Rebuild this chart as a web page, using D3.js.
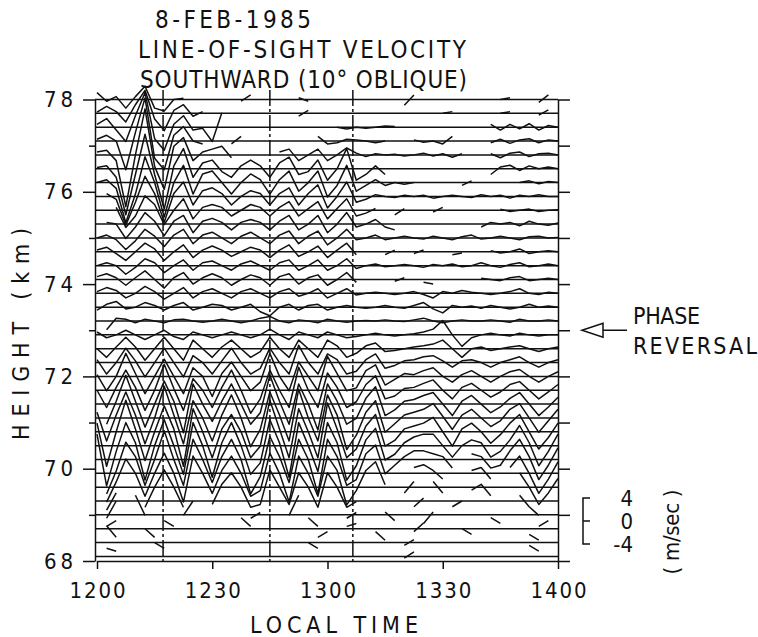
<!DOCTYPE html>
<html>
<head>
<meta charset="utf-8">
<script src="https://cdn.jsdelivr.net/npm/d3@7"></script>
<style>
  html, body { margin: 0; padding: 0; background: #fff; }
  svg text { font-family: "Liberation Sans Narrow", "DejaVu Sans Condensed", "Liberation Sans", sans-serif; fill: #111; }
</style>
</head>
<body>
<div id="chart"></div>
<script>
// ---- data -------------------------------------------------------------
var N = null;

// sample times, minutes after 1200 LT
var minutes = [0,2.5,5,7.5,10,12.5,15,17.5,20,22.5,25,27.5,30,32.5,35,37.5,40,42.5,45,47.5,50,52.5,55,57.5,60,62.5,65,67.5,70,72.5,75,77.5,80,82.5,85,87.5,90,92.5,95,97.5,100,102.5,105,107.5,110,112.5,115,117.5,120];

// range gates (km)
var heights = [78.0,77.7,77.4,77.1,76.8,76.5,76.2,75.9,75.6,75.3,75.0,74.7,74.4,74.1,73.8,73.5,73.2,72.9,72.6,72.3,72.0,71.7,71.4,71.1,70.8,70.5,70.2,69.9,69.6,69.3,69.0,68.7,68.4,68.1];

// line-of-sight velocity (m/s) per gate, null = no data
var h780 = [1.2,-0.3,0.5,-1.5,0.5,2.3,-1.5,-2,0,0.2,N,N,N,N,N,-0.3,0.8,N,N,N,N,0.3,-0.3,N,N,N,N,N,N,N,N,N,-1,0.8,N,N,N,N,N,N,N,N,0,0.3,N,N,-0.5,0.8,N];
var h777 = [0.2,1.2,0.3,-1.5,1.5,4,-1,-3,0.5,1.5,-0.5,0.3,N,N,N,N,N,N,N,N,N,-0.5,0.5,N,N,N,N,N,N,N,N,N,N,N,N,N,0,0.3,N,N,N,N,0,0.3,N,N,-0.3,0.6,N];
var h774 = [0.5,1.5,-0.5,-2.5,2,6,-2,-4,0.5,2,-0.5,-0.2,-2.5,2.5,N,N,N,N,N,N,N,N,N,N,N,0,-0.3,0,-0.2,0,0.2,0.1,N,N,N,N,N,N,N,N,N,0.5,-0.5,0.5,-0.3,0.6,-0.5,0.3,0];
var h771 = [0.3,1,0,-5,1.5,7.5,-3,-5,1,2.5,0,-0.5,N,N,-0.5,0.8,N,N,N,N,N,N,N,0.8,-0.5,-0.3,0.3,0.2,0,-0.3,0,N,N,0.2,-0.2,0,-0.5,0.8,N,N,N,-0.3,0.3,-0.4,0.2,0.4,-0.3,0.2,0];
var h768 = [0.5,0.8,-1,-9,0,8,-2,-6,1.5,3,-1,0.5,1,1.5,-0.5,N,N,N,N,0.5,1,-1,0,1,-1,0,1.2,0.3,-0.3,0.2,0,0.1,-0.2,0,0.3,-0.2,0.2,-0.4,0.2,N,N,0.2,-0.5,0.3,0.5,-0.3,0.2,0.3,0];
var h765 = [0.2,0.5,-1.5,-8,-1,6,-1,-7,0.5,3.5,-1.5,1,1.5,-0.5,-1.5,0.5,1.5,0.5,-1.5,1,2,-1,-0.5,1.5,-2,0,3.5,-2,-1,0.5,-1,N,N,N,N,N,N,N,N,N,N,-1,0.3,0.6,-0.3,0.5,0,0.3,0];
var h762 = [0,0.5,-1,-7,-2,4.5,0,-6,0,3,-2,1.5,2,0,-2,0,1.5,0.5,-2,0.5,2,-1.5,0,2,-2.5,-0.5,3,-1.5,-0.5,0.5,-0.5,0,-0.3,0,N,N,N,N,-0.5,0.3,N,N,N,N,0,0.3,-0.2,0.2,0];
var h759 = [N,0.5,-0.5,-5,-1,3.5,0.5,-4.5,0.5,2.5,-1.5,1,1.5,0.5,-1.5,0,1,0.5,-1.5,0.5,1.5,-1.5,0.5,2,-2,0,2.5,-1,-0.5,0.3,0,-0.2,0.2,0,0.2,-0.3,0,0.2,0,-0.2,0.3,0,0.2,-0.3,0.2,0,0.3,0,0];
var h756 = [N,N,0.5,-3,-1,2.5,1,-2.5,0,2,-1.5,0.5,1,0.5,-1,0,1,0.5,-1,0.5,1.5,-1,0.3,1.5,-1.5,0.3,2,-1,-0.5,0.3,N,-0.8,0.3,N,N,-0.3,0.5,N,N,N,N,N,0.2,-0.2,0,0.2,-0.2,0,0.1];
var h753 = [N,0.3,0,-2.5,-0.5,2,0.5,-2,0.5,1.5,-1.5,0.5,1,0.3,-1,0.3,0.8,0.3,-1,0.5,1.5,-1,0,1.5,-1.5,0,2,-0.5,0,0.8,-0.5,-1,N,N,N,N,N,N,N,N,-0.5,0.3,0,0.3,-0.3,0.5,0,-0.2,0.2];
var h750 = [0,0.5,-0.3,-2,-0.5,1.5,0.3,-1.5,0.5,1.5,-1,0.5,1,0,-1,0.3,1,0,-1,0.5,1.2,-1,0.3,1.2,-1.2,0,1.5,-0.3,0,0.5,-0.3,0,0.3,0,-0.2,0.3,0,-0.3,0.2,0.5,-0.2,0,0.3,0,-0.3,0.2,0.3,0,0.1];
var h747 = [0.3,0.8,-0.3,-1.5,0,1.5,0.5,-1.5,0,1.2,-1,0.3,1,0.3,-0.8,0,0.8,0.3,-1,0.3,1.2,-0.8,0,1,-1,0.3,1.5,-0.5,N,N,-0.5,0.3,N,-0.3,0.3,N,N,-0.5,-0.2,N,N,0.2,-0.2,0,0.5,-0.3,0,0.2,0];
var h744 = [0,0.5,0,-1.5,-0.3,1.2,0.5,-1.2,0,1,-0.8,0.5,0.8,0,-0.8,0.3,0.8,0,-0.8,0.5,1,-0.8,0,1,-0.8,0,1.2,-0.5,0,0.3,-0.2,0,0.2,0,-0.3,0.2,0,0.3,-0.2,0,0.5,0,-0.3,0.2,0.5,-0.2,0,0.3,0];
var h741 = [0.5,1,0.3,-1,0.3,1.5,0,-1.5,0.3,1.2,-0.8,0.3,1,0.3,-1,0,0.8,0.3,-1,0.5,1,-0.8,0.3,0.8,-1,0,1.2,-0.5,N,N,N,-0.3,0.3,N,-0.5,-0.8,N,N,N,N,0.2,0,-0.2,0.3,0.5,-0.2,0,0.2,0];
var h738 = [0.3,1,0.5,-0.8,0,1.2,0.3,-1,0,1,-0.8,0.3,0.8,0,-0.8,0.3,0.8,0,-0.8,0.3,0.8,-0.5,0,0.8,-0.8,0,0.8,-0.3,0,0.2,0,-0.2,0,0.3,-0.2,-0.8,0.3,0,0.5,0.2,0,-0.2,0,0.3,0.8,0,-0.2,0.2,0];
var h735 = [-0.5,0.5,1,-0.3,0,0.8,0.3,-0.5,0.3,0.8,-0.5,0,0.5,0.3,-0.5,0,0.5,-0.8,-1.5,0,0.5,-0.5,0.3,0.5,-0.5,0,0.3,0,-0.2,0,0.3,0,-0.2,0.3,0.8,-0.3,-1,0.3,0,0.2,-0.2,0.3,0,-0.3,0,0.5,0,0.2,0];
var h732 = [N,-1.5,0.5,0.3,-0.3,0.3,0,-0.3,0.2,0.3,0,-0.2,0,0.3,0,-0.3,0,0.5,0.8,0,-0.3,0.2,0,-0.3,0.3,0,-0.2,0,0.1,0,0.2,0,-0.1,0.2,0.5,0,-0.3,0,0.2,0,0,0.2,0,-0.2,0.3,0,0,0.2,0];
var h729 = [0.5,-0.5,0,0.8,0,-0.8,0,0.8,-0.3,-0.8,0.5,0,-0.5,0,0.5,0,-0.5,0,1,0,-0.8,0.5,0,-0.5,0.5,0,-0.5,-0.3,0,0.3,0,-0.2,0,0.2,0.5,1,2.5,0,-2,-0.5,0,0.3,0,-0.2,0.3,0,-0.2,0,0];
var h726 = [0,-1.5,0.3,2,0.3,-2,0,2,0,-2,1.5,0,-1.5,0.3,1.5,0,-1.5,-0.5,2,0,-1.5,1.5,0,-1.5,1.5,0.5,-1.5,-0.8,0.5,1,-0.5,-0.3,0,0.3,0.5,0.8,1.5,0,-1.5,0,0.3,-0.3,0,0.3,0.5,0,-0.5,0,0.3];
var h723 = [0.5,-2,0,2.5,0.3,-2.5,0,2.5,0,-2.5,1.2,0,-2,0.3,2.5,0,-2,-1,2.5,0,-2,3,0,-2,1.5,0.5,-2,-1.5,0.5,1.5,-1,-0.5,0.3,0.5,1,1.2,0.3,-0.8,0.3,0.5,0,-0.8,0,0.5,1,0,-0.8,0,0.5];
var h720 = [0.3,-2.5,0,4,0.5,-3,0,3,0,-3,1.5,0,-3.5,0.5,2.5,0,-2.5,-1,4,0,-2.5,2.5,0,-2.5,3.5,0.5,-2.5,-2,1,2,-1.5,-0.5,0.5,0.3,1,1.5,0,-1,0.3,1,0,-1,0,0.8,1.2,0,-1,0,0.8];
var h717 = [0,-3,0.5,3.5,0.5,-3.5,0,4.5,0.3,-3.5,2,0,-3,0.5,3.5,0,-4,-1.5,3.5,0,-3,4,0,-3,3,0.5,-3,-2,1,2.5,-1.5,-1,0.3,0.5,1.2,1.8,0,-1.5,0.5,1.2,0,-1.2,-0.3,1,1.5,0,-1.5,-0.3,1];
var h714 = [N,-3.5,0.5,5,0.5,-4,0,4,0.5,-5,3.5,0,-3,0.5,3.5,0,-3.5,-1.5,5,0.5,-3.5,3.5,0,-4.5,3.5,0.5,-3.5,-2.5,1,3,-2,-1,0.5,0.8,1.5,2,0,-2,0.5,1.5,0,-1.5,-0.5,1,2,0,-2,-0.5,1.2];
var h711 = [1,-4,0.5,4.5,0.5,-4.5,0,5.5,0.5,-4.5,3,0,-4,0.5,4,0,-5,-2,4.5,0.5,-4,5,0,-4,4,0.5,-5.5,-3,1,3,-2.5,-1,0.5,1,1.5,2.5,0.3,-2,0.5,1.5,0,-1.5,-0.5,1.5,2.5,0,-2.5,-0.5,1.5];
var h708 = [1.5,-6,0,5.5,0.5,-5,0,4.5,0.5,-6,4,0,-4.5,0.5,3,0,-4.5,-2.5,5.5,0.5,-4.5,4,0,-4.5,5,0.5,-4.5,-3,1,3,-2.5,-1.5,0.5,1,1.5,2.5,0,-2.5,0.5,1.5,0,-2,-0.5,1.5,3,0,-3,-1,1.5];
var h705 = [2,-7,-1,4,0.5,-6,0,4.5,0,-5,4,0,-5.5,0.5,4,0,-5,-3,4.5,0.5,-5.5,4,0,-4.5,4,0.5,-6,-3.5,1,3,-2.5,-1.5,0.5,1.5,2,2,0,-2,0,1,0.5,-2,-1,1,3.5,0.5,-3.5,-1,2];
var h702 = [N,-6,-2,3,0.5,-4.5,0,5,0,-4.5,3.5,0,-4,0.5,3.5,0,-6,-3,4,0.5,-4,3.5,0,-6,3.5,0.5,-4.5,-3.5,1,2.5,-2.5,-1,0.5,1.5,1.5,1,0.5,-1.5,N,1,0.5,-1.5,-1,1.5,3.5,0.5,-3.5,-1,2];
var h699 = [N,-5,-1.5,2.5,0,-4,0,3.5,0,-5,3,0,-3.5,0.5,3,0,-4,-3,3.5,0,-5,3,0,-4,3,0.5,-5.5,-3,0.5,2,-2,N,N,1,1.5,0.5,-1,N,N,0.5,1,-1,N,1,3,0,-3.5,-1,2];
var h696 = [N,-4,-1,N,N,-3.5,0,3,0,-3.5,N,N,-3,0.5,2.5,0,-3.5,-3,3,0,-3,2.5,0,-3.5,2.5,0,-3.5,-2.5,N,N,N,N,-1,1,N,1,-1,N,N,-0.5,0.5,-1.5,N,N,2.5,0,-3,-1,1.5];
var h693 = [N,-3,0,N,1,-2.5,N,N,N,-2.5,0,N,N,N,N,N,-3,-2,N,N,-2.5,1,N,-3,N,N,-3,-2,N,N,N,N,N,-1,0.5,N,N,-1,0,N,N,N,N,N,1,-1,-2.5,N,N];
var h690 = [N,-2,-1,N,N,N,N,-1,-2,N,N,N,N,N,N,-0.5,-2,N,N,N,N,N,-0.5,-2,N,N,-2,-1.5,N,N,0.5,-1,N,N,-1.5,0.5,N,N,N,N,N,-0.5,-1.5,N,N,N,-2,-1,N];
var h687 = [N,0.5,-1.5,N,N,0,-1.5,N,N,N,N,N,N,N,N,N,-1,N,N,N,N,N,N,-1.5,-0.5,N,N,N,N,-0.5,-2,N,N,-0.5,1,N,N,N,0,-1,N,N,N,N,N,-1,-2,N,N];
var h684 = [N,-1,-1.5,N,N,N,0,-1,N,N,N,N,N,N,N,N,N,N,N,N,N,N,0,-1,N,N,N,N,N,N,N,N,-0.5,0.5,N,N,N,N,N,N,N,N,N,N,N,-0.5,-1.5,N,N];
var h681 = [N,N,N,N,N,N,N,N,N,N,N,N,N,N,N,N,N,N,N,N,N,N,N,N,N,N,N,N,N,N,N,N,-0.3,0.8,N,N,N,N,N,N,N,N,N,N,N,N,N,N,N];

var velocityRows = [h780,h777,h774,h771,h768,h765,h762,h759,h756,h753,h750,h747,h744,h741,h738,h735,h732,h729,h726,h723,h720,h717,h714,h711,h708,h705,h702,h699,h696,h693,h690,h687,h684,h681];

// axis ticks and labels
var timeTicks = [0, 30, 60, 90, 120];
var timeLabels = ["1200", "1230", "1300", "1330", "1400"];
var heightMajor = [68, 70, 72, 74, 76, 78];
var heightMinor = [69, 71, 73, 75, 77];
var heightAll = [68, 69, 70, 71, 72, 73, 74, 75, 76, 77, 78];
var markerMinutes = [17.2, 45, 66.6];   // dash-dot reference times
var scaleValues = [4, 0, -4];           // m/s legend
var reversalHeight = 73;

// ---- layout -----------------------------------------------------------
var width = 758, height = 637;
var ink = "#111";

var svg = d3.select("#chart")
  .append("svg")
    .attr("width", width)
    .attr("height", height);

svg.append("rect").attr("width", width).attr("height", height).attr("fill", "#fff");

var x = d3.scaleLinear().domain([0, 120]).range([97, 558]);
var y = d3.scaleLinear().domain([68, 78]).range([561, 99.5]);
// velocity -> pixel offset from a gate's baseline
var v = d3.scaleLinear().domain([-4, 4]).range([23, -23]);

// baselines
svg.append("g")
  .selectAll("line")
  .data(heights)
  .enter().append("line")
    .attr("x1", 95)
    .attr("x2", x(120))
    .attr("y1", function(d) { return y(d); })
    .attr("y2", function(d) { return y(d); })
    .attr("stroke", ink)
    .attr("stroke-width", 1.5);

// velocity traces
var traceLine = d3.line()
  .defined(function(d) { return d.value != null; })
  .x(function(d) { return x(d.t); })
  .y(function(d) { return d.base + v(d.value); });

svg.append("g")
  .selectAll("path")
  .data(velocityRows)
  .enter().append("path")
    .attr("d", function(row, i) {
      var pts = minutes.map(function(t, k) {
        var val = k < row.length ? row[k] : null;
        return { t: t, value: val, base: y(heights[i]) };
      });
      return traceLine(pts);
    })
    .attr("fill", "none")
    .attr("stroke", ink)
    .attr("stroke-width", 1.5)
    .attr("stroke-linejoin", "round");

// dash-dot time markers
svg.append("g")
  .selectAll("line")
  .data(markerMinutes)
  .enter().append("line")
    .attr("x1", function(d) { return x(d); })
    .attr("x2", function(d) { return x(d); })
    .attr("y1", 90)
    .attr("y2", y(68))
    .attr("stroke", ink)
    .attr("stroke-width", 1.5)
    .attr("stroke-dasharray", "16,3,3,3");

// axes
var fontSize = 22;

var leftMajor = svg.append("g")
  .attr("transform", "translate(95,0)")
  .call(d3.axisLeft(y).tickValues(heightMajor).tickSize(12).tickSizeOuter(0).tickPadding(10).tickFormat(d3.format("d")));
leftMajor.attr("font-family", null).attr("font-size", fontSize);
leftMajor.selectAll("text").attr("textLength", 29).attr("lengthAdjust", "spacing");

var leftMinor = svg.append("g")
  .attr("transform", "translate(95,0)")
  .call(d3.axisLeft(y).tickValues(heightMinor).tickSize(6).tickSizeOuter(0).tickFormat(""));
leftMinor.select(".domain").remove();

var rightAxis = svg.append("g")
  .attr("transform", "translate(" + x(120) + ",0)")
  .call(d3.axisRight(y).tickValues(heightAll).tickSize(12).tickSizeOuter(0).tickFormat(""));

var bottomAxis = svg.append("g")
  .attr("transform", "translate(0," + y(68) + ")")
  .call(d3.axisBottom(x).tickValues(timeTicks).tickSize(8).tickSizeOuter(0).tickPadding(13)
    .tickFormat(function(d, i) { return timeLabels[i]; }));
bottomAxis.attr("font-family", null).attr("font-size", fontSize);
bottomAxis.selectAll("text").attr("textLength", 56).attr("lengthAdjust", "spacing");

[leftMajor, leftMinor, rightAxis, bottomAxis].forEach(function(g) {
  g.selectAll("line, path").attr("stroke", ink).attr("stroke-width", 1.5);
  g.selectAll("text").attr("fill", ink);
});

// titles
function label(txt, px, py, len, size, anchor) {
  return svg.append("text")
    .attr("x", px).attr("y", py)
    .attr("font-size", size)
    .attr("text-anchor", anchor || "start")
    .attr("textLength", len)
    .attr("lengthAdjust", "spacing")
    .text(txt);
}

label("8-FEB-1985", 155, 28, 156, 24);
label("LINE-OF-SIGHT VELOCITY", 138, 58, 328, 24);
label("SOUTHWARD (10\u00B0 OBLIQUE)", 140, 88, 327, 24);
label("LOCAL TIME", 250, 633, 168, 23);

svg.append("text")
  .attr("transform", "translate(29,334) rotate(-90)")
  .attr("text-anchor", "middle")
  .attr("font-size", 23)
  .attr("textLength", 212)
  .attr("lengthAdjust", "spacing")
  .text("HEIGHT (km)");

// phase reversal annotation
var ay = y(reversalHeight);
svg.append("path")
  .attr("d", "M582," + ay + "L603," + (ay - 7) + "L603," + (ay + 7) + "Z")
  .attr("fill", "#fff").attr("stroke", ink).attr("stroke-width", 1.5);
svg.append("line")
  .attr("x1", 603).attr("x2", 627).attr("y1", ay).attr("y2", ay)
  .attr("stroke", ink).attr("stroke-width", 1.5);
label("PHASE", 633, ay - 6, 67, 23);
label("REVERSAL", 633, ay + 24, 124, 23);

// velocity scale legend
var ly = 521;
svg.append("path")
  .attr("d", "M590," + (ly + v(4)) + "H583V" + (ly + v(-4)) + "H590M583," + ly + "H590")
  .attr("fill", "none").attr("stroke", ink).attr("stroke-width", 1.5);
svg.append("g")
  .selectAll("text")
  .data(scaleValues)
  .enter().append("text")
    .attr("x", 633)
    .attr("y", function(d) { return ly + v(d) + 8; })
    .attr("text-anchor", "end")
    .attr("font-size", 22)
    .text(function(d) { return d < 0 ? "-" + Math.abs(d) : d; });

svg.append("text")
  .attr("transform", "translate(679,532) rotate(-90)")
  .attr("text-anchor", "middle")
  .attr("font-size", 22)
  .attr("textLength", 85)
  .attr("lengthAdjust", "spacing")
  .text("( m/sec )");
</script>
</body>
</html>
